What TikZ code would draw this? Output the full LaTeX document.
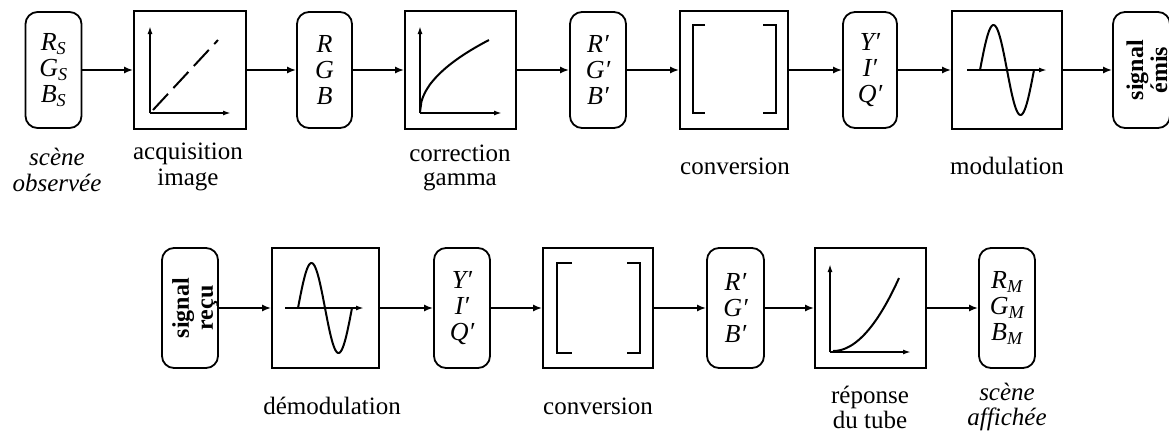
\documentclass[tikz,border=0pt]{standalone}
\usepackage{fontspec}
\setmainfont{Liberation Serif}
\usetikzlibrary{arrows.meta}
\begin{document}
\begin{tikzpicture}[x=1pt,y=-1pt,
  box/.style={draw, line width=1.8pt, inner sep=0pt, align=center},
  rbox/.style={box, rounded corners=12pt, minimum width=56pt, minimum height=116pt, font=\fontsize{26}{26}\selectfont\itshape},
  sbox/.style={box, minimum width=111pt, minimum height=118pt},
  conn/.style={line width=1.7pt, -{Latex[length=9pt,width=7pt]}},
  axis/.style={line width=1.7pt, -{Latex[length=8pt,width=5pt]}},
  curve/.style={line width=2pt},
  lbl/.style={align=center, inner sep=0pt, font=\fontsize{25}{26}\selectfont},
  vlbl/.style={rotate=90, align=center, inner sep=0pt, font=\fontsize{24}{24}\selectfont\bfseries}]
\useasboundingbox (0,0) rectangle (1169,432);
\clip (0,0) rectangle (1169,432);
% ---------- top row ----------
\node[rbox] (s1) at (53.5,70) {R\textsubscript{S}\\G\textsubscript{S}\\B\textsubscript{S}};
\node[sbox, minimum width=112pt] (acq) at (190,70) {};
\node[rbox, minimum width=55pt] (rgb) at (324.5,70) {R\\G\\B};
\node[sbox] (gam) at (460.5,70) {};
\node[rbox] (rgbp) at (598,70) {R′\\G′\\B′};
\node[sbox, minimum width=108pt] (cv1) at (734,70) {};
\node[rbox, minimum width=54pt] (yiq1) at (870,70) {Y′\\I′\\Q′};
\node[sbox, minimum width=110pt] (mod) at (1007,70) {};
\node[box, rounded corners=12pt, minimum width=57pt, minimum height=116pt] (se) at (1141.5,70) {};
\node[vlbl] (setxt) at (1147,70) {signal\\émis};

\draw[conn] (s1) -- (acq);
\draw[conn] (acq) -- (rgb);
\draw[conn] (rgb) -- (gam);
\draw[conn] (gam) -- (rgbp);
\draw[conn] (rgbp) -- (cv1);
\draw[conn] (cv1) -- (yiq1);
\draw[conn] (yiq1) -- (mod);
\draw[conn] (mod) -- (se);

% icons top
\draw[axis] (150,113) -- (150,26);
\draw[axis] (150,113) -- (231,113);
\draw[curve, dash pattern=on 22pt off 8pt] (153,110) -- (218,40);

\draw[axis] (420,113) -- (420,26);
\draw[axis] (420,113) -- (502,113);
\draw[curve] plot[domain=0:1, samples=50] ({420+69*\x},{112-72*(\x)^0.5});

\draw[curve] (705,25) -- (693,25) -- (693,113) -- (705,113);
\draw[curve] (763,25) -- (776,25) -- (776,113) -- (763,113);

\draw[axis] (967,70) -- (1047,70);
\draw[curve] plot[domain=0:1, samples=60] ({980+54*\x},{70-45*sin(360*\x)});

% labels top
\node[lbl, font=\fontsize{25}{26}\selectfont\itshape] (l1) at (57,170) {scène\\observée};
\node[lbl] (l2) at (188,167) {acquisition\\image};
\node[lbl, font=\fontsize{25}{24}\selectfont] (l3) at (460,168) {correction\\gamma};
\node[lbl] (l4) at (735,166) {conversion};
\node[lbl] (l5) at (1007,166) {modulation};

% ---------- bottom row ----------
\node[box, rounded corners=12pt, minimum width=56pt, minimum height=120pt] (sr) at (190,308) {};
\node[vlbl] (srtxt) at (195,308) {signal\\reçu};
\node[sbox, minimum width=107pt, minimum height=120pt] (dem) at (325.5,308) {};
\node[rbox, minimum height=120pt] (yiq2) at (462,308) {Y′\\I′\\Q′};
\node[sbox, minimum width=110pt, minimum height=120pt] (cv2) at (598,308) {};
\node[rbox, minimum width=57pt, minimum height=120pt] (rgb2) at (735.5,308) {R′\\G′\\B′};
\node[sbox, minimum width=111pt, minimum height=120pt] (rep) at (870.5,308) {};
\node[rbox, minimum height=120pt] (rm) at (1007,308) {R\textsubscript{M}\\G\textsubscript{M}\\B\textsubscript{M}};

\draw[conn] (sr) -- (dem);
\draw[conn] (dem) -- (yiq2);
\draw[conn] (yiq2) -- (cv2);
\draw[conn] (cv2) -- (rgb2);
\draw[conn] (rgb2) -- (rep);
\draw[conn] (rep) -- (rm);

% icons bottom
\draw[axis] (285,308) -- (364,308);
\draw[curve] plot[domain=0:1, samples=60] ({298+54*\x},{308-45*sin(360*\x)});

\draw[curve] (572,263) -- (557,263) -- (557,353) -- (572,353);
\draw[curve] (627,263) -- (640,263) -- (640,353) -- (627,353);

\draw[axis] (830,352) -- (830,264);
\draw[axis] (830,352) -- (911,352);
\draw[curve] plot[domain=0:1, samples=50] ({833+66*\x},{351-73*(\x)^2});

% labels bottom
\node[lbl] (l6) at (332,406) {démodulation};
\node[lbl] (l7) at (598,406) {conversion};
\node[lbl, font=\fontsize{25}{25}\selectfont] (l8) at (870,407) {réponse\\du tube};
\node[lbl, font=\fontsize{25}{25}\selectfont\itshape] (l9) at (1007,407) {scène\\affichée};
\end{tikzpicture}
\end{document}
